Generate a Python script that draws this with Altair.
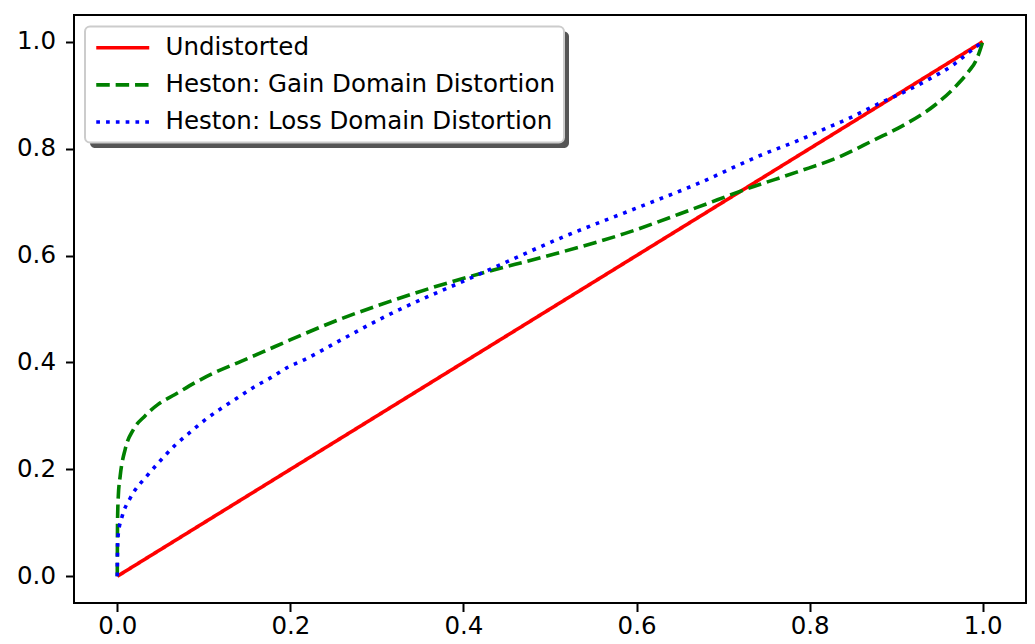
import altair as alt
import pandas as pd

# ---- data ----
undistorted_x = [0.0, 1.0]
undistorted_y = [0.0, 1.0]

gain_x = [0.000, 0.0003, 0.0012, 0.0034, 0.0092, 0.0188, 0.032, 0.0475, 0.0667, 0.0897,
          0.1126, 0.143, 0.170, 0.201, 0.256, 0.302, 0.360, 0.421, 0.494, 0.586,
          0.670, 0.728, 0.785, 0.835, 0.873, 0.911, 0.946, 0.969, 0.984, 0.992,
          0.996, 1.000]
gain_y = [0.000, 0.100, 0.150, 0.188, 0.238, 0.275, 0.300, 0.322, 0.340, 0.362,
          0.381, 0.402, 0.421, 0.443, 0.480, 0.507, 0.538, 0.567, 0.598, 0.641,
          0.690, 0.725, 0.756, 0.785, 0.815, 0.846, 0.883, 0.917, 0.945, 0.964,
          0.980, 1.000]

loss_x = [0.000, 0.0003, 0.001, 0.006, 0.0146, 0.036, 0.0513, 0.0667, 0.0839, 0.101,
          0.120, 0.139, 0.159, 0.178, 0.197, 0.216, 0.256, 0.306, 0.421, 0.517,
          0.594, 0.670, 0.747, 0.785, 0.816, 0.846, 0.877, 0.908, 0.938, 0.967,
          0.984, 1.000]
loss_y = [0.000, 0.050, 0.077, 0.114, 0.145, 0.191, 0.219, 0.245, 0.269, 0.292,
          0.314, 0.334, 0.355, 0.372, 0.391, 0.405, 0.440, 0.483, 0.567, 0.636,
          0.685, 0.734, 0.790, 0.814, 0.836, 0.857, 0.882, 0.905, 0.930, 0.958,
          0.980, 1.000]

series_names = ["Undistorted", "Heston: Gain Domain Distortion", "Heston: Loss Domain Distortion"]
series_colors = ["#ff0000", "#008000", "#0000ff"]
series_dashes = [[1, 0], [13.5, 5.9], [3.7, 6.1]]
tick_values = [0.0, 0.2, 0.4, 0.6, 0.8, 1.0]

rows = []
for name, xs, ys in zip(series_names,
                        [undistorted_x, gain_x, loss_x],
                        [undistorted_y, gain_y, loss_y]):
    for i, (xv, yv) in enumerate(zip(xs, ys)):
        rows.append({"series": name, "x": xv, "y": yv, "order": i})
df = pd.DataFrame(rows)

FONT = "DejaVu Sans"

x_enc = alt.X("x:Q", scale=alt.Scale(domain=[-0.05, 1.05], nice=False, zero=False),
              axis=alt.Axis(values=tick_values, format=".1f", title=None))
y_enc = alt.Y("y:Q", scale=alt.Scale(domain=[-0.05, 1.05], nice=False, zero=False),
              axis=alt.Axis(values=tick_values, format=".1f", title=None))

legend_cfg = alt.Legend(title=None, orient="none", legendX=11, legendY=11.5)

lines = alt.Chart(df).mark_line(strokeWidth=3.6, interpolate="monotone", clip=True).encode(
    x=x_enc,
    y=y_enc,
    order="order:Q",
    color=alt.Color("series:N",
                    scale=alt.Scale(domain=series_names, range=series_colors),
                    legend=legend_cfg),
    strokeDash=alt.StrokeDash("series:N",
                              scale=alt.Scale(domain=series_names, range=series_dashes),
                              legend=legend_cfg),
)

# legend drop shadow (decoration)
shadow = alt.Chart(pd.DataFrame({"k": [0]})).mark_rect(color="#555555", cornerRadius=5).encode(
    x=alt.value(16), x2=alt.value(495), y=alt.value(16.5), y2=alt.value(133)
)

chart = alt.layer(shadow, lines).properties(
    width=952, height=588,
    autosize=alt.AutoSizeParams(type="none"),
    padding={"left": 66, "top": 7, "right": 1, "bottom": 33},
).configure_view(
    stroke="black", strokeWidth=2
).configure_axis(
    domain=False, grid=False, ticks=True, tickColor="black", tickWidth=2, tickSize=8.5,
    labelFont=FONT, labelFontSize=24.5, labelColor="black",
).configure_axisX(
    labelPadding=3
).configure_axisY(
    labelPadding=10
).configure_legend(
    symbolType="M-1,0H4.3", symbolSize=400, symbolStrokeWidth=3.6,
    labelFont=FONT, labelFontSize=24.5, labelColor="black", labelOffset=47,
    labelLimit=1000, padding=9, rowPadding=12.1,
    strokeColor="#cccccc", strokeWidth=2, fillColor="white", cornerRadius=5,
)

chart.save("out.html", embed_options={"renderer": "svg", "actions": False})
